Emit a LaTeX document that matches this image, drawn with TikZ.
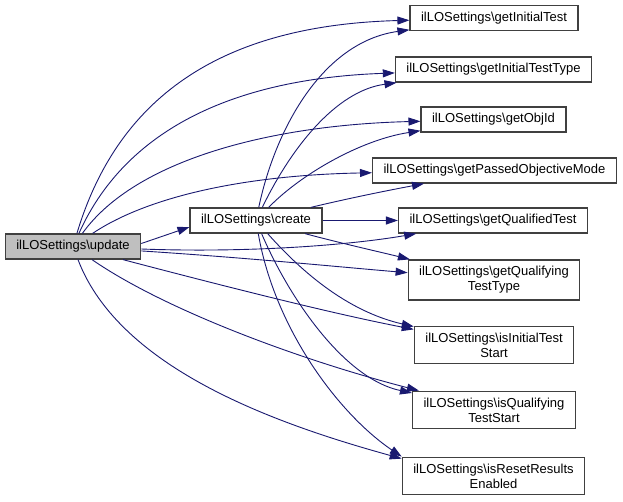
\documentclass[tikz,border=0pt]{standalone}
\usepackage{fontspec}
\setmainfont{Liberation Sans}
\usepackage{tikz}
\usetikzlibrary{arrows,arrows.meta,shapes}
\usepackage{xcolor}
\definecolor{cgnavy}{RGB}{25,25,112}
\definecolor{cgborder}{RGB}{64,64,64}
\definecolor{cggrey}{RGB}{191,191,191}
\tikzstyle{arrow} = [line width=0.9pt,->,>={Triangle[length=12pt,width=8pt]},color=cgnavy]
\tikzstyle{func} = [rectangle, minimum height=25pt, inner xsep=11pt, inner ysep=6.5pt, align=center, draw=cgborder, fill=white, line width=1.2pt, font=\fontsize{13}{15}\selectfont]

\begin{document}
\begin{tikzpicture}[x=1pt, y=-1pt]
\useasboundingbox (0,0) rectangle (623,502);
% callers
\node[func, fill=cggrey] (update) at (73,246.5) {ilLOSettings\textbackslash update};
\node[func] (create) at (256,220.5) {ilLOSettings\textbackslash create};
% callees
\node[func] (git) at (494,18) {ilLOSettings\textbackslash getInitialTest};
\node[func] (gitt) at (493.5,69.5) {ilLOSettings\textbackslash getInitialTestType};
\node[func] (goi) at (493.5,119.5) {ilLOSettings\textbackslash getObjId};
\node[func] (gpom) at (494.5,170.5) {ilLOSettings\textbackslash getPassedObjectiveMode};
\node[func] (gqt) at (493,220.5) {ilLOSettings\textbackslash getQualifiedTest};
\node[func] (gqtt) at (494,280) {ilLOSettings\textbackslash getQualifying\\TestType};
\node[func] (iits) at (494,345) {ilLOSettings\textbackslash isInitialTest\\Start};
\node[func] (iqts) at (494,410) {ilLOSettings\textbackslash isQualifying\\TestStart};
\node[func] (irre) at (493.5,476) {ilLOSettings\textbackslash isResetResults\\Enabled};
% update calls
\draw[arrow] ([yshift=3pt]update.east) -- ([yshift=-6.5pt]create.west);
\draw[arrow] (update) .. controls (120,90) and (230,25) .. (git);
\draw[arrow] (update) .. controls (130,120) and (250,78) .. (gitt);
\draw[arrow] (update) .. controls (135,160) and (270,125) .. (goi);
\draw[arrow] (update) .. controls (150,195) and (250,175) .. (gpom);
\draw[arrow] (update) .. controls (250,253) and (350,245) .. (gqt);
\draw[arrow] (update) .. controls (250,258) and (340,267) .. (gqtt);
\draw[arrow] (update) .. controls (250,293) and (340,315) .. (iits);
\draw[arrow] (update) .. controls (165,310) and (300,360) .. (iqts);
\draw[arrow] (update) .. controls (120,370) and (280,425) .. ([yshift=-2pt]irre.north west);
% create calls
\draw[arrow] (create) .. controls (275,130) and (322,42) .. (git);
\draw[arrow] (create) .. controls (290,150) and (335,91) .. (gitt);
\draw[arrow] (create) .. controls (300,175) and (360,140) .. (goi);
\draw[arrow] (create) .. controls (350,198) and (390,190) .. (gpom);
\draw[arrow] (create) -- (gqt);
\draw[arrow] (create) .. controls (340,243) and (380,252) .. (gqtt);
\draw[arrow] (create) .. controls (300,270) and (346,311) .. (iits);
\draw[arrow] (create) .. controls (290,300) and (345,379) .. (iqts);
\draw[arrow] (create) .. controls (275,330) and (340,415) .. (irre.north west);
\end{tikzpicture}
\end{document}
